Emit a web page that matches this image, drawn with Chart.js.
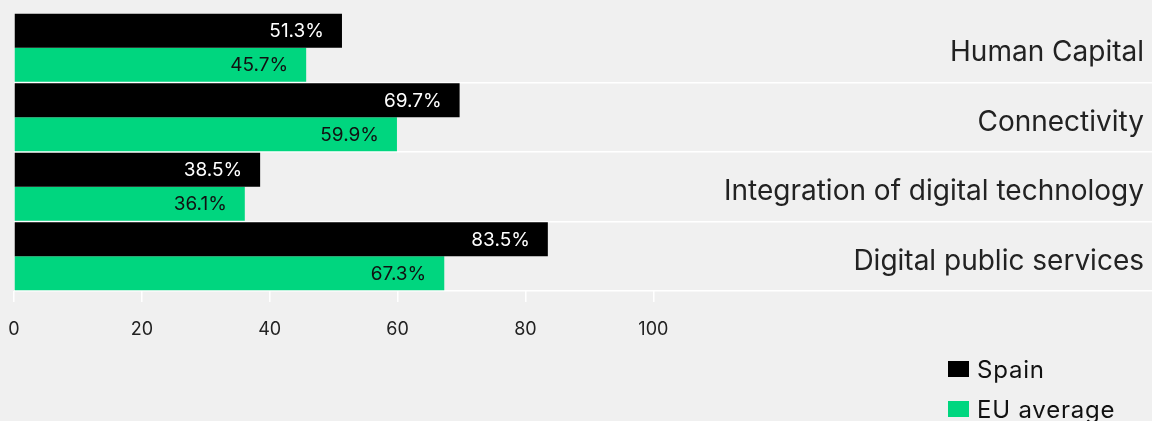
<!DOCTYPE html>
<html>
<head>
<meta charset="utf-8">
<script src="https://cdn.jsdelivr.net/npm/chart.js@4/dist/chart.umd.min.js"></script>
<style>
  html, body { margin: 0; padding: 0; background: #f0f0f0; }
  #wrap { position: relative; width: 1152px; height: 421px; overflow: hidden; }
  #legend { position: absolute; left: 948px; top: 354px; font-family: Inter, "Liberation Sans", sans-serif; font-size: 24px; color: #111; letter-spacing: 0.8px; }
  #legend .item { display: flex; align-items: center; height: 30px; margin-bottom: 10px; }
  #legend .box { width: 21px; height: 16px; margin-right: 8px; flex: none; }
</style>
</head>
<body>
<div id="wrap">
  <canvas id="chart"></canvas>
  <div id="legend"></div>
</div>
<script>
// DESI dimensions: Spain vs EU average
const categories = ["Human Capital", "Connectivity", "Integration of digital technology", "Digital public services"];
const spainValues = [51.3, 69.7, 38.5, 83.5];
const euValues = [45.7, 59.9, 36.1, 67.3];
const seriesNames = ["Spain", "EU average"];
const seriesColors = ["#000000", "#00d67f"];
const xTicks = [0, 20, 40, 60, 80, 100];

const FONT = 'Inter, "Liberation Sans", sans-serif';

// Writes each bar's value just inside its end
const barValueLabels = {
  id: 'barValueLabels',
  afterDatasetsDraw(chart) {
    const ctx = chart.ctx;
    ctx.save();
    ctx.font = '19px ' + FONT;
    ctx.textAlign = 'right';
    ctx.textBaseline = 'middle';
    chart.data.datasets.forEach((ds, di) => {
      const meta = chart.getDatasetMeta(di);
      meta.data.forEach((bar, i) => {
        ctx.fillStyle = di === 0 ? '#ffffff' : '#111111';
        ctx.fillText(ds.data[i].toFixed(1) + '%', bar.x - 18, bar.y + 1);
      });
    });
    ctx.restore();
  }
};

const chart = new Chart(document.getElementById('chart'), {
  type: 'bar',
  data: {
    labels: categories,
    datasets: [
      { label: seriesNames[0], data: spainValues, backgroundColor: seriesColors[0] },
      { label: seriesNames[1], data: euValues, backgroundColor: seriesColors[1] }
    ]
  },
  options: {
    indexAxis: 'y',
    responsive: true,
    maintainAspectRatio: false,
    animation: false,
    layout: { padding: { left: 14, top: 13, right: 0, bottom: 0 } },
    datasets: { bar: { categoryPercentage: 0.98, barPercentage: 1.0 } },
    plugins: { legend: { display: false }, tooltip: { enabled: false } },
    scales: {
      x: {
        type: 'linear',
        min: 0,
        max: 178,
        afterBuildTicks(scale) {
          scale.ticks = xTicks.map(v => ({ value: v }));
        },
        afterFit(scale) {
          scale.height = 130;
          scale.paddingLeft = 0;
          scale.paddingRight = 0;
        },
        border: { display: false },
        grid: { drawOnChartArea: false, drawTicks: true, tickLength: 11, color: '#ffffff', lineWidth: 1.5 },
        ticks: { font: { family: FONT, size: 18 }, color: '#222222', padding: 17, maxRotation: 0 }
      },
      y: {
        type: 'category',
        position: 'right',
        offset: true,
        afterFit(scale) {
          scale.width = 0;
          scale.paddingTop = 0;
          scale.paddingBottom = 0;
        },
        border: { display: false },
        grid: {
          offset: true,
          drawTicks: false,
          lineWidth: 1.5,
          color: (c) => c.index === 0 ? 'rgba(0,0,0,0)' : '#ffffff'
        },
        ticks: { mirror: true, font: { family: FONT, size: 28 }, color: '#222222', padding: -8, labelOffset: 5 }
      }
    }
  },
  plugins: [barValueLabels]
});

// Legend built from the datasets
const legend = document.getElementById('legend');
chart.data.datasets.forEach(ds => {
  const item = document.createElement('div');
  item.className = 'item';
  const box = document.createElement('span');
  box.className = 'box';
  box.style.background = ds.backgroundColor;
  const txt = document.createElement('span');
  txt.textContent = ds.label;
  item.appendChild(box);
  item.appendChild(txt);
  legend.appendChild(item);
});
</script>
</body>
</html>
